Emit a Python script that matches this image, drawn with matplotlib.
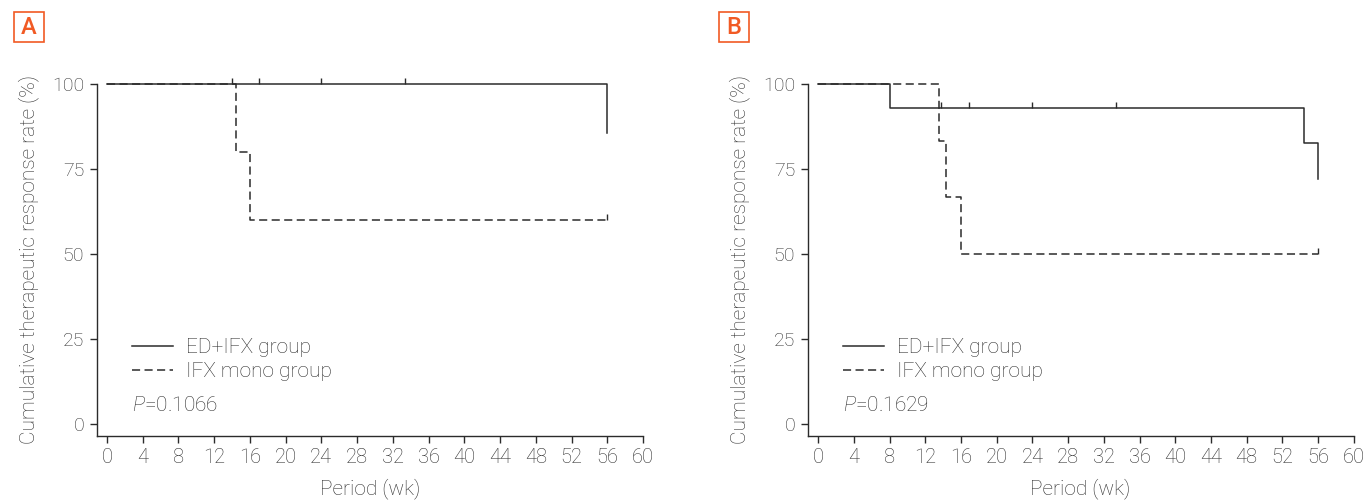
import numpy as np
import matplotlib
matplotlib.use('Agg')
import matplotlib.pyplot as plt
from matplotlib.lines import Line2D
from matplotlib.patches import Rectangle

plt.rcParams['font.family'] = ['Roboto', 'DejaVu Sans']
plt.rcParams['font.weight'] = 'light'
plt.rcParams['axes.labelweight'] = 'light'
plt.rcParams['mathtext.fontset'] = 'custom'
plt.rcParams['mathtext.it'] = 'Roboto:italic:light'
plt.rcParams['mathtext.rm'] = 'Roboto:light'

# ---- data (weeks, % response) ----
a_ed_t = [0, 56]
a_ed_s = [100, 85.7]
a_ed_cens = [14, 17, 24, 33.4]
a_mono_t = [0, 14.4, 16, 56]
a_mono_s = [100, 80, 60, 60]
a_mono_cens = [56]
a_p = '0.1066'

b_ed_t = [0, 8, 54.4, 56]
b_ed_s = [100, 92.9, 82.5, 72.2]
b_ed_cens = [13.8, 16.9, 23.9, 33.4]
b_mono_t = [0, 13.5, 14.3, 16, 56]
b_mono_s = [100, 83.3, 66.7, 50, 50]
b_mono_cens = [56]
b_p = '0.1629'

xticks = list(range(0, 61, 4))
yticks = [0, 25, 50, 75, 100]
labels = ['ED+IFX group', 'IFX mono group']

txt = '#2e2e2e'
ink = '#2b2b2b'
orange = '#f15a24'
dash = (5.3, 2.9)

fig = plt.figure(figsize=(13.65, 5.03), dpi=100)


def step_value(t, s, x):
    # value of the KM step curve at time x
    idx = np.searchsorted(t, x, side='right') - 1
    return s[idx]


def draw_panel(ax, ed_t, ed_s, ed_c, mo_t, mo_s, mo_c, pval, xleft):
    ax.step(mo_t, mo_s, where='post', color=ink, lw=1.1, ls=(0, dash), clip_on=False, zorder=3)
    ax.step(ed_t, ed_s, where='post', color=ink, lw=1.1, clip_on=False, zorder=4)
    ax.plot(ed_c, [step_value(ed_t, ed_s, c) for c in ed_c], ls='none', marker=2,
            ms=4.5, mew=1.0, color=ink, clip_on=False, zorder=4)
    ax.plot(mo_c, [step_value(mo_t, mo_s, c) for c in mo_c], ls='none', marker=2,
            ms=4.5, mew=1.0, color=ink, clip_on=False, zorder=4)

    ax.set_xlim(xleft, 60)
    ax.set_ylim(-3.45, 100)
    ax.set_xticks(xticks)
    ax.set_yticks(yticks)
    for s in ['top', 'right']:
        ax.spines[s].set_visible(False)
    for s in ['left', 'bottom']:
        ax.spines[s].set_color(ink)
        ax.spines[s].set_linewidth(1.0)
    ax.tick_params(axis='both', direction='out', length=5, width=1.0, color=ink, labelcolor=txt)
    ax.tick_params(axis='x', labelsize=14.5, pad=4)
    ax.tick_params(axis='y', labelsize=14, pad=4)
    ax.set_xlabel('Period (wk)', fontsize=15, color=txt, labelpad=8)
    ax.set_ylabel('Cumulative therapeutic response rate (%)', fontsize=15, color=txt, labelpad=9)

    handles = [Line2D([], [], color=ink, lw=1.1),
               Line2D([], [], color=ink, lw=1.1, ls=(0, dash))]
    ax.legend(handles, labels, loc='center left', bbox_to_anchor=(0.064, 0.216),
              frameon=False, fontsize=15, handlelength=2.0, handletextpad=0.6,
              labelspacing=0.25, borderpad=0, borderaxespad=0, labelcolor=txt)
    ax.text(0.064, 0.087, r'$P$=' + pval, transform=ax.transAxes, fontsize=15,
            color=txt, va='center', ha='left')


ax1 = fig.add_axes([0.0708, 0.1338, 0.4003, 0.6992])
draw_panel(ax1, a_ed_t, a_ed_s, a_ed_cens, a_mono_t, a_mono_s, a_mono_cens, a_p, -1.15)

ax2 = fig.add_axes([0.5917, 0.1338, 0.4, 0.6992])
draw_panel(ax2, b_ed_t, b_ed_s, b_ed_cens, b_mono_t, b_mono_s, b_mono_cens, b_p, -1.2)

# panel letters in orange boxes
for letter, x0 in [('A', 14), ('B', 719)]:
    fig.patches.append(Rectangle((x0 / 1365, 1 - 42 / 503), 30 / 1365, 30 / 503,
                                 transform=fig.transFigure, fill=False,
                                 edgecolor=orange, lw=1.2))
    fig.text((x0 + 15) / 1365, 1 - 27 / 503, letter, color=orange, fontsize=17,
             fontweight='medium', ha='center', va='center')

fig.savefig('out.png', dpi=100)
